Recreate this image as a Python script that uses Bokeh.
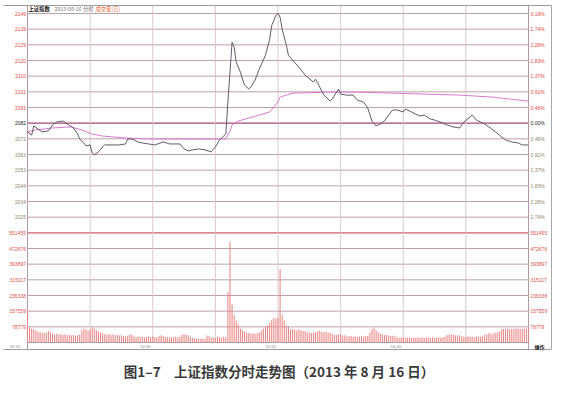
from bokeh.plotting import figure
from bokeh.models import Range1d, ColumnDataSource, LabelSet, Label
from bokeh.embed import file_html
from bokeh.resources import INLINE
from bokeh.core.properties import value, field

# ---------------- data ----------------
prev_close = 2081.8
price_step = 9.5
volume_step = 78779.3

price_tick_labels = ["2149", "2139", "2129", "2120", "2110", "2101", "2091",
                     "2082", "2072", "2063", "2053", "2044", "2034", "2025"]
pct_tick_labels = ["3.19%", "2.74%", "2.28%", "1.83%", "1.37%", "0.91%", "0.46%",
                   "0.00%", "0.46%", "0.91%", "1.37%", "1.83%", "2.28%", "2.74%"]
volume_tick_labels = ["551455", "472676", "393897", "315117", "236338", "157559", "78779"]
time_tick_labels = ["09:30", "10:30", "13:00", "14:00"]
time_tick_minutes = [0, 60, 120, 180]

header_name = "上证指数"
header_date = "2013-08-16 分时"
header_vol = "成交量(万)"
corner_text = "操作"
caption = "图1–7　上证指数分时走势图（2013 年 8 月 16 日）"

price_minutes = [0, 2, 3, 5, 7, 10, 12, 14, 17, 19,
                 22, 24, 25, 27, 28, 30, 31, 32, 34, 36,
                 37, 41, 44, 47, 48, 50, 53, 55, 58, 61,
                 65, 68, 73, 75, 77, 79, 82, 85, 88, 90,
                 92, 93, 95, 96, 98, 99, 100, 102, 103, 104,
                 106, 107, 109, 111, 114, 116, 117, 119, 120, 121,
                 122, 124, 125, 127, 130, 133, 137, 138, 140, 142,
                 145, 146, 149, 150, 153, 156, 158, 161, 163, 165,
                 167, 169, 171, 173, 175, 177, 180, 181, 183, 186,
                 188, 190, 193, 195, 199, 201, 204, 207, 209, 212,
                 213, 215, 217, 219, 221, 223, 226, 229, 232, 235,
                 237, 240]
price_values = [2076.5, 2074.6, 2080.1, 2078.3, 2076.5, 2077.1, 2080.7, 2082.5, 2083.1, 2081.3,
                2078.9, 2075.2, 2072.2, 2069.8, 2068.0, 2068.6, 2063.8, 2062.6, 2064.4, 2067.4,
                2068.6, 2068.6, 2068.6, 2069.2, 2072.2, 2072.2, 2070.4, 2069.8, 2069.2, 2068.6,
                2070.4, 2069.2, 2069.2, 2066.2, 2065.0, 2065.6, 2066.2, 2065.6, 2064.4, 2067.4,
                2071.6, 2072.8, 2075.2, 2094.6, 2130.9, 2127.8, 2118.8, 2112.7, 2108.5, 2104.9,
                2102.5, 2103.7, 2107.9, 2114.5, 2123.0, 2132.7, 2141.1, 2147.2, 2148.4, 2146.0,
                2138.7, 2129.1, 2123.0, 2120.0, 2115.8, 2110.9, 2106.7, 2108.5, 2103.7, 2098.8,
                2095.2, 2096.4, 2102.5, 2099.4, 2098.8, 2098.8, 2095.8, 2094.6, 2091.0, 2083.1,
                2080.1, 2081.3, 2083.1, 2086.7, 2089.8, 2089.8, 2088.6, 2090.4, 2089.2, 2087.3,
                2086.1, 2086.7, 2084.3, 2083.7, 2081.9, 2080.7, 2079.5, 2078.9, 2082.5, 2085.5,
                2086.7, 2083.7, 2082.5, 2081.3, 2079.5, 2077.7, 2074.6, 2071.6, 2070.4, 2069.8,
                2068.6, 2068.6]

avg_minutes = [0, 4, 12, 21, 26, 31, 36, 47, 60, 79,
               95, 97, 98, 101, 106, 111, 116, 118, 120, 121,
               124, 127, 143, 159, 175, 191, 207, 223, 231, 240]
avg_values = [2076.5, 2077.7, 2078.9, 2079.5, 2077.7, 2075.2, 2074.0, 2072.8, 2072.2, 2072.2,
              2072.2, 2077.1, 2080.7, 2083.1, 2084.9, 2086.7, 2088.6, 2091.6, 2094.6, 2097.6,
              2098.8, 2100.0, 2100.6, 2100.6, 2100.0, 2099.4, 2098.8, 2097.6, 2096.4, 2095.2]

volume = [167000, 75000, 70000, 66000, 60000, 55000, 52000, 50000, 48000, 50000,
          58000, 52000, 45000, 42000, 44000, 40000, 43000, 38000, 41000, 37000,
          39000, 35000, 38000, 34000, 36000, 40000, 62000, 70000, 66000, 60000,
          64000, 76000, 70000, 62000, 55000, 50000, 46000, 42000, 40000, 44000,
          38000, 41000, 36000, 39000, 35000, 37000, 33000, 30000, 34000, 40000,
          38000, 31000, 28000, 30000, 27000, 29000, 26000, 28000, 31000, 27000,
          30000, 28000, 26000, 34000, 36000, 33000, 29000, 27000, 25000, 28000,
          26000, 30000, 27000, 29000, 40000, 42000, 38000, 36000, 30000, 24000,
          20000, 18000, 17000, 19000, 21000, 18000, 35000, 34000, 25000, 28000,
          22000, 30000, 27000, 24000, 30000, 26000, 253000, 506000, 192000, 137000,
          111000, 91000, 70000, 62000, 55000, 50000, 48000, 45000, 47000, 44000,
          46000, 50000, 60000, 70000, 80000, 86000, 100000, 115000, 125000, 120000,
          125000, 370000, 137000, 110000, 86000, 80000, 66000, 68000, 64000, 62000,
          66000, 60000, 58000, 56000, 52000, 50000, 48000, 50000, 52000, 56000,
          58000, 55000, 52000, 54000, 50000, 48000, 42000, 40000, 38000, 41000,
          39000, 37000, 36000, 32000, 30000, 33000, 29000, 31000, 28000, 30000,
          32000, 29000, 31000, 34000, 50000, 68000, 76000, 62000, 52000, 45000,
          42000, 38000, 36000, 35000, 33000, 34000, 32000, 26000, 24000, 25000,
          27000, 23000, 25000, 26000, 24000, 22000, 25000, 27000, 24000, 26000,
          23000, 25000, 28000, 24000, 26000, 22000, 25000, 27000, 24000, 26000,
          30000, 38000, 40000, 42000, 39000, 37000, 35000, 36000, 31000, 30000,
          28000, 31000, 29000, 30000, 27000, 32000, 30000, 29000, 31000, 38000,
          40000, 48000, 44000, 45000, 50000, 52000, 55000, 65000, 68000, 66000,
          70000, 67000, 69000, 68000, 72000, 70000, 68000, 71000, 69000, 70000,
          75000]
volume_minutes = list(range(len(volume)))

# ---------------- geometry ----------------
W, H = 562, 390
PAGE = 8
X0_PAGE, X240_PAGE = 35.0, 536.0          # page px of minute 0 / 240
PPM = (X240_PAGE - X0_PAGE) / 240.0
ROW_TOP_PAGE, ROW_BOT_PAGE = 21.0, 350.0  # first grid row / volume baseline
ROW_PX = (ROW_BOT_PAGE - ROW_TOP_PAGE) / 21.0
price_top = prev_close + 7 * price_step


def mx(px):
    return (px - X0_PAGE) / PPM


def py(pyx):
    rows = (pyx - ROW_TOP_PAGE) / ROW_PX
    return price_top - rows * price_step


rows_above = (ROW_TOP_PAGE - PAGE) / ROW_PX
rows_below = (PAGE + H - ROW_TOP_PAGE) / ROW_PX

p = figure(width=W, height=H, output_backend="svg", toolbar_location=None,
           x_axis_type=None, y_axis_type=None, title=None,
           x_range=Range1d(mx(PAGE), mx(PAGE + W)),
           y_range=Range1d(price_top - rows_below * price_step, price_top + rows_above * price_step),
           min_border=0, min_border_left=0, min_border_right=0,
           min_border_top=0, min_border_bottom=0)
p.extra_y_ranges = {"vol": Range1d((21 - rows_below) * volume_step, (21 + rows_above) * volume_step)}
p.outline_line_color = None
p.background_fill_color = "white"
p.border_fill_color = "white"

# ---- horizontal grid ----
hy, hc, hw = [], [], []
for k in range(22):
    hy.append(price_top - k * price_step)
    if k == 7:
        hc.append("#a8487a"); hw.append(1.3)
    elif k == 14:
        hc.append("#cf5f68"); hw.append(1.2)
    elif k == 21:
        hc.append("#a8a0a0"); hw.append(1.0)
    else:
        hc.append("#b3979d"); hw.append(0.9)
p.segment(x0=0, x1=240, y0="y", y1="y", line_color="c", line_width="w",
          source=ColumnDataSource(dict(y=hy, c=hc, w=hw)))

# ---- vertical grid ----
vx = [30, 60, 90, 120, 150, 180, 210]
p.segment(x0=vx, x1=vx, y0=py(ROW_BOT_PAGE), y1=py(13), line_color="#d6c2cb", line_width=0.9)
p.segment(x0=[0, 240], x1=[0, 240], y0=py(357), y1=py(13), line_color="#b898a2", line_width=1)

# ---- outer frame ----
p.segment(x0=mx(11), x1=mx(559), y0=[py(13), py(357)], y1=[py(13), py(357)],
          line_color="#9a9a9a", line_width=1)
p.segment(x0=mx(559), x1=mx(559), y0=py(357), y1=py(13), line_color="#a8a8a8", line_width=1)

# ---- volume bars ----
p.vbar(x=volume_minutes, top=volume, bottom=0, width=0.5, y_range_name="vol",
       fill_color="#e98585", line_color=None)

# ---- lines ----
p.line(avg_minutes, avg_values, line_color="#d97ad0", line_width=1.0)
p.line(price_minutes, price_values, line_color="#615b68", line_width=1.0)

# ---- tick labels ----
FONT = "Liberation Sans"
price_colors = ["#e8483f"] * 7 + ["#222222"] + ["#8d8868"] * 6
price_y = [prev_close + (7 - k) * price_step for k in range(14)]
left_src = ColumnDataSource(dict(x=[mx(33.5)] * 14, y=price_y, text=price_tick_labels, color=price_colors))
right_src = ColumnDataSource(dict(x=[mx(538)] * 14, y=price_y, text=pct_tick_labels, color=price_colors))
p.add_layout(LabelSet(source=left_src, x="x", y="y", text="text", text_color=field("color"),
                      text_align="right", text_baseline="middle", text_font_size="5px",
                      text_font=value(FONT)))
p.add_layout(LabelSet(source=right_src, x="x", y="y", text="text", text_color=field("color"),
                      text_align="left", text_baseline="middle", text_font_size="5px",
                      text_font=value(FONT)))
vol_y = [(7 - j) * volume_step for j in range(7)]
for xpos, align in ((mx(33.5), "right"), (mx(538), "left")):
    src = ColumnDataSource(dict(x=[xpos] * 7, y=vol_y, text=volume_tick_labels))
    p.add_layout(LabelSet(source=src, x="x", y="y", text="text", y_range_name="vol",
                          text_color="#e0504a", text_align=align, text_baseline="middle",
                          text_font_size="5px", text_font=value(FONT)))

time_x = [m - 2.0 / PPM if m > 0 else mx(28) for m in time_tick_minutes]
time_src = ColumnDataSource(dict(x=time_x, y=[py(353.5)] * 4, text=time_tick_labels))
p.add_layout(LabelSet(source=time_src, x="x", y="y", text="text", text_color="#8a8a8a",
                      text_align="right", text_baseline="middle", text_font_size="4.3px",
                      text_font=value(FONT)))

# ---- header / corner / caption ----
CJK = "Noto Sans CJK SC"
p.add_layout(Label(x=mx(36), y=py(16.5), text=header_name, text_font=CJK, text_font_size="5.3px",
                   text_font_style="bold", text_color="#111111", text_baseline="middle"))
p.add_layout(Label(x=mx(62), y=py(16.5), text=header_date, text_font=CJK, text_font_size="5.3px",
                   text_color="#777777", text_baseline="middle"))
p.add_layout(Label(x=mx(103), y=py(16.5), text=header_vol, text_font=CJK, text_font_size="5.3px",
                   text_color="#e8652e", text_baseline="middle"))
p.add_layout(Label(x=mx(547), y=py(354), text=corner_text, text_font=CJK, text_font_size="5px",
                   text_font_style="bold", text_color="#222222", text_align="center",
                   text_baseline="middle"))
p.add_layout(Label(x=mx(286.5), y=py(378), text=caption, text_font=CJK, text_font_size="13.5px",
                   text_font_style="bold", text_color="#3a3a3a", text_align="center",
                   text_baseline="middle"))

open("out.html", "w").write(file_html(p, INLINE))
